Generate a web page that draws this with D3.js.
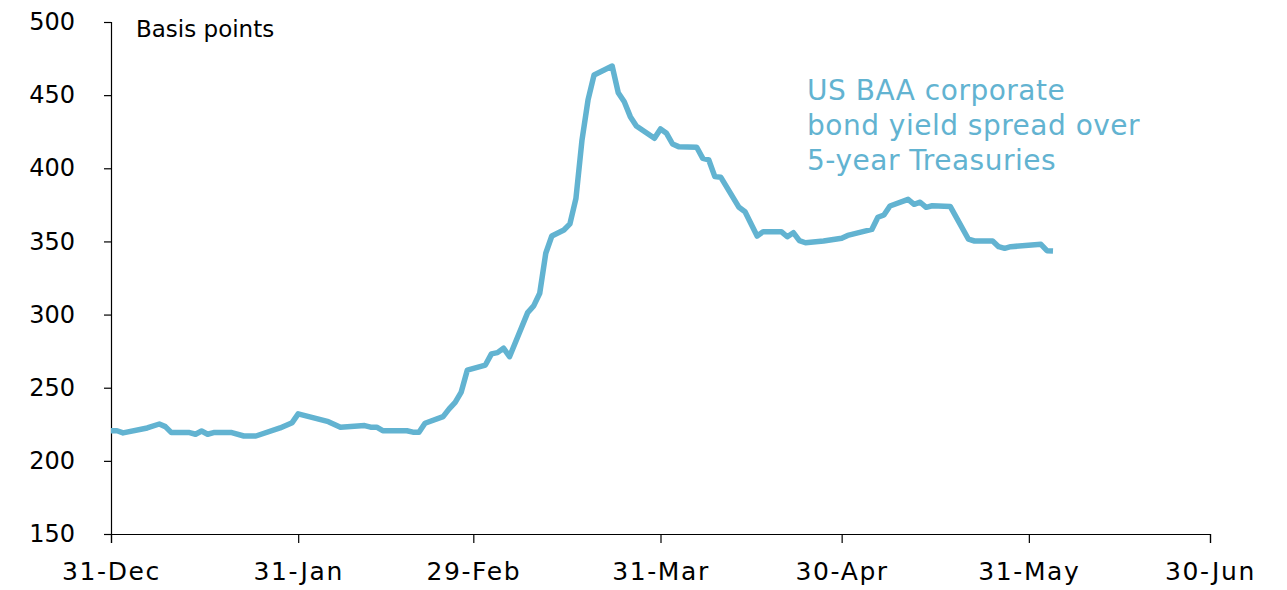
<!DOCTYPE html>
<html><head><meta charset="utf-8">
<script src="https://cdn.jsdelivr.net/npm/d3@7"></script>
<style>
body{margin:0;background:#fff;}
svg text{font-family:"DejaVu Sans",sans-serif;fill:#000;}
</style></head>
<body><svg id="c" width="1287" height="590"></svg>
<script>
const dates = ["2019-12-31","2020-01-01","2020-01-02","2020-01-06","2020-01-08","2020-01-09","2020-01-10","2020-01-13","2020-01-14","2020-01-15","2020-01-16","2020-01-17","2020-01-20","2020-01-22","2020-01-24","2020-01-28","2020-01-30","2020-01-31",
"2020-02-05","2020-02-07","2020-02-11","2020-02-12","2020-02-13","2020-02-14","2020-02-18","2020-02-19","2020-02-20","2020-02-21","2020-02-24","2020-02-25","2020-02-26","2020-02-27","2020-02-28",
"2020-03-02","2020-03-03","2020-03-04","2020-03-05","2020-03-06","2020-03-09","2020-03-10","2020-03-11","2020-03-12","2020-03-13","2020-03-15","2020-03-16","2020-03-17","2020-03-18","2020-03-19","2020-03-20","2020-03-23","2020-03-24","2020-03-25","2020-03-26","2020-03-27","2020-03-30","2020-03-31",
"2020-04-01","2020-04-02","2020-04-03","2020-04-06","2020-04-07","2020-04-08","2020-04-09","2020-04-10","2020-04-13","2020-04-14","2020-04-16","2020-04-17","2020-04-20","2020-04-21","2020-04-22","2020-04-23","2020-04-24","2020-04-27","2020-04-30",
"2020-05-01","2020-05-05","2020-05-06","2020-05-07","2020-05-08","2020-05-11","2020-05-12","2020-05-13","2020-05-14","2020-05-15","2020-05-18","2020-05-21","2020-05-22","2020-05-25","2020-05-26","2020-05-27","2020-05-28",
"2020-06-02","2020-06-03","2020-06-04"];
const spread = [220.6,220.6,219.1,222.5,225.2,223.4,219.3,219.3,218.2,220.4,218.2,219.3,219.3,217,217,222.5,226.1,232.1,
226.8,223,224.1,223,223,220.6,220.6,219.6,219.6,225.7,230.2,235.5,240,247,262,
265.5,273.1,274,277,271.2,301.3,305.9,314.6,341.9,353.7,357.8,362,379.5,419.3,446.7,463.8,469.9,451.7,445.5,435.3,428.9,420.5,426.9,
423.9,416.6,414.8,414.4,406.8,405.7,394.3,393.8,373.3,370.3,353.7,356.7,356.7,353.2,356,350.5,349.1,350.3,352.2,
354.1,358.2,366.5,368.1,374.2,378.8,375.4,376.8,373.3,374.4,373.8,351.5,350.3,350.3,346.4,345.3,346.4,
348,343.7,343.5];
const xTickDates = ["2019-12-31","2020-01-31","2020-02-29","2020-03-31","2020-04-30","2020-05-31","2020-06-30"];
const xTickLabels = ["31-Dec","31-Jan","29-Feb","31-Mar","30-Apr","31-May","30-Jun"];
const yTicks = [150,200,250,300,350,400,450,500];
const yLabel = "Basis points";
const seriesLabel = ["US BAA corporate","bond yield spread over","5-year Treasuries"];

const parse = d3.timeParse("%Y-%m-%d");
const data = dates.map((d,i)=>({date:parse(d), v:spread[i]}));
const svg = d3.select("#c");
const x = d3.scaleTime().domain([parse("2019-12-31"), parse("2020-06-30")]).range([111,1210]);
const y = d3.scaleLinear().domain([150,500]).range([534,22]);
const color = "#62b3d1";

const yAxis = svg.append("g").attr("transform","translate(111,0)")
  .call(d3.axisLeft(y).tickValues(yTicks).tickSize(7).tickPadding(29).tickFormat(d3.format("d")));
yAxis.selectAll("text").attr("font-size",24).attr("font-family","DejaVu Sans").attr("fill","#000").attr("dy","0.32em");
yAxis.select(".domain").attr("stroke","#000").attr("stroke-width",1.2);
yAxis.selectAll(".tick line").attr("stroke","#000").attr("stroke-width",1.2);

const xAxis = svg.append("g").attr("transform","translate(0,534)")
  .call(d3.axisBottom(x).tickValues(xTickDates.map(parse)).tickSize(9).tickPadding(19)
    .tickFormat((d,i)=>xTickLabels[i]));
xAxis.selectAll("text").attr("font-size",25).attr("letter-spacing","1.6px").attr("font-family","DejaVu Sans").attr("fill","#000");
xAxis.select(".domain").attr("stroke","#000").attr("stroke-width",1.2);
xAxis.selectAll(".tick line").attr("stroke","#000").attr("stroke-width",1.2);

svg.append("path").datum(data)
  .attr("fill","none").attr("stroke",color).attr("stroke-width",5.5).attr("stroke-linejoin","round")
  .attr("d", d3.line().x(d=>x(d.date)).y(d=>y(d.v)));

svg.append("text").attr("x",136).attr("y",37).attr("font-size",23).text(yLabel);

svg.append("g").selectAll("text").data(seriesLabel).join("text")
  .attr("x",807).attr("y",(d,i)=>100+i*35).attr("font-size",28).attr("letter-spacing","0.5px")
  .style("fill",color).text(d=>d);
</script></body></html>
